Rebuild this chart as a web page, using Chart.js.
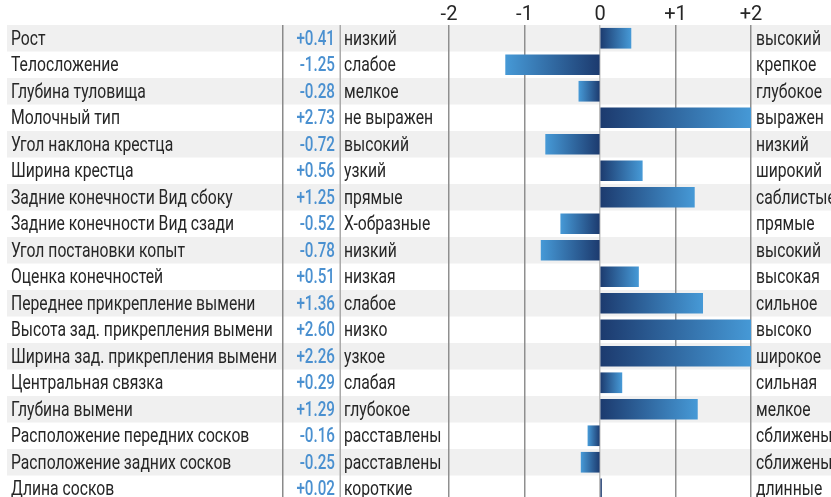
<!DOCTYPE html>
<html>
<head>
<meta charset="utf-8">
<script src="https://cdn.jsdelivr.net/npm/chart.js@4.4.1/dist/chart.umd.min.js"></script>
<style>
  html, body { margin: 0; padding: 0; background: #fff; overflow: hidden; }
  #wrap { position: relative; width: 831px; height: 502px; }
</style>
</head>
<body>
<div id="wrap"><canvas id="traitChart"></canvas></div>
<script>
// Данные
const traits = ['Рост', 'Телосложение', 'Глубина туловища', 'Молочный тип', 'Угол наклона крестца',
  'Ширина крестца', 'Задние конечности Вид сбоку', 'Задние конечности Вид сзади', 'Угол постановки копыт',
  'Оценка конечностей', 'Переднее прикрепление вымени', 'Высота зад. прикрепления вымени',
  'Ширина зад. прикрепления вымени', 'Центральная связка', 'Глубина вымени',
  'Расположение передних сосков', 'Расположение задних сосков', 'Длина сосков'];
const values = [0.41, -1.25, -0.28, 2.73, -0.72, 0.56, 1.25, -0.52, -0.78, 0.51, 1.36, 2.60, 2.26, 0.29, 1.29, -0.16, -0.25, 0.02];
const lowLabels = ['низкий', 'слабое', 'мелкое', 'не выражен', 'высокий', 'узкий', 'прямые', 'Х-образные',
  'низкий', 'низкая', 'слабое', 'низко', 'узкое', 'слабая', 'глубокое', 'расставлены', 'расставлены', 'короткие'];
const highLabels = ['высокий', 'крепкое', 'глубокое', 'выражен', 'низкий', 'широкий', 'саблистые', 'прямые',
  'высокий', 'высокая', 'сильное', 'высоко', 'широкое', 'сильная', 'мелкое', 'сближены', 'сближены', 'длинные'];
const tickValues = [-2, -1, 0, 1, 2];
const tickLabels = ['-2', '-1', '0', '+1', '+2'];

const DARK = '#1c3a6e';
const LIGHT = '#4699d6';
const FONT = 'Roboto';
const SQUEEZE = 0.785;     // имитация узкого шрифта
const SQUEEZE_NUM = 0.76;

function fmt(v) {
  return (v >= 0 ? '+' : '-') + Math.abs(v).toFixed(2);
}

// рисуем текст с горизонтальным сжатием
function narrowText(ctx, text, x, y, align, k) {
  ctx.save();
  ctx.translate(x, y);
  ctx.scale(k, 1);
  ctx.textAlign = align;
  ctx.fillText(text, 0, 0);
  ctx.restore();
}

// Фон строк, линии колонок и текст таблицы
const tablePlugin = {
  id: 'tablePlugin',
  beforeDraw(chart) {
    const ctx = chart.ctx;
    const y = chart.scales.y;
    const area = chart.chartArea;
    const rowH = (area.bottom - area.top) / traits.length;
    ctx.save();
    ctx.fillStyle = '#f0f0f0';
    traits.forEach((t, i) => {
      if (i % 2 === 0) {
        const cy = y.getPixelForValue(i);
        ctx.fillRect(7, cy - rowH / 2, chart.width - 7, rowH);
      }
    });
    ctx.fillStyle = '#8a8a8a';
    ctx.fillRect(282, area.top, 1.5, chart.height - area.top);
    ctx.fillStyle = '#aaaaaa';
    ctx.fillRect(339.5, area.top, 1.5, chart.height - area.top);
    ctx.restore();
  },
  afterDraw(chart) {
    const ctx = chart.ctx;
    const y = chart.scales.y;
    ctx.save();
    ctx.textBaseline = 'middle';
    traits.forEach((t, i) => {
      const cy = y.getPixelForValue(i) + 1.5;
      ctx.font = '20px ' + FONT;
      ctx.fillStyle = '#262626';
      narrowText(ctx, t, 11, cy, 'left', SQUEEZE);
      narrowText(ctx, lowLabels[i], 344, cy, 'left', SQUEEZE);
      narrowText(ctx, highLabels[i], 756, cy, 'left', SQUEEZE);
      ctx.font = '500 20px ' + FONT;
      ctx.fillStyle = '#4a90d0';
      narrowText(ctx, fmt(values[i]), 335, cy, 'right', SQUEEZE_NUM);
    });
    ctx.restore();
  }
};

function barFill(context) {
  const chart = context.chart;
  if (!chart.chartArea) return DARK;
  const x = chart.scales.x;
  const v = Math.max(-2, Math.min(2, context.raw));
  const x0 = x.getPixelForValue(0);
  const x1 = x.getPixelForValue(v);
  if (Math.abs(x1 - x0) < 3) return DARK;
  const g = chart.ctx.createLinearGradient(x0, 0, x1, 0);
  g.addColorStop(0, DARK);
  g.addColorStop(1, LIGHT);
  return g;
}

new Chart(document.getElementById('traitChart'), {
  type: 'bar',
  data: {
    labels: traits,
    datasets: [{
      data: values,
      backgroundColor: barFill,
      borderWidth: 0,
      barThickness: 20
    }]
  },
  options: {
    indexAxis: 'y',
    responsive: true,
    maintainAspectRatio: false,
    animation: false,
    layout: { padding: { left: 449, right: 80, top: 0, bottom: 0 } },
    plugins: { legend: { display: false }, tooltip: { enabled: false } },
    scales: {
      x: {
        position: 'top',
        min: -2,
        max: 2,
        afterFit(scale) { scale.height = 25; },
        afterBuildTicks(scale) { scale.ticks = tickValues.map(v => ({ value: v })); },
        ticks: {
          padding: 0,
          color: '#262626',
          font: { family: FONT, size: 20, lineHeight: 1 },
          callback: (v) => tickLabels[tickValues.indexOf(v)]
        },
        grid: {
          drawTicks: false,
          lineWidth: 1.5,
          color: (c) => (c.tick && c.tick.value === 0) ? '#bdbdbd' : '#8f8f8f'
        },
        border: { display: false }
      },
      y: {
        display: false
      }
    }
  },
  plugins: [tablePlugin]
});
</script>
</body>
</html>
